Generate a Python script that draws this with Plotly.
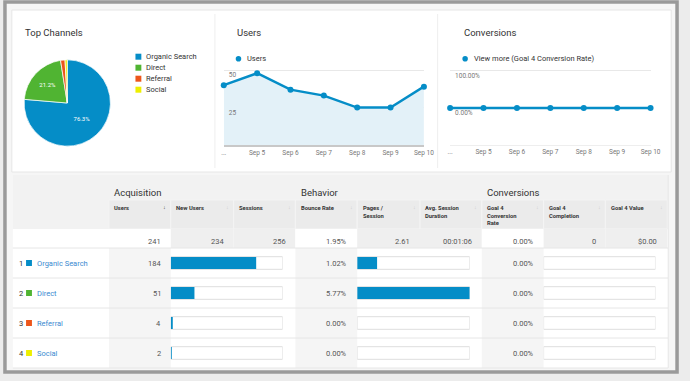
import plotly.graph_objects as go

W, H = 690, 381
def px(x): return x / W
def py(y): return 1 - y / H

FONT = "Roboto, Arial, sans-serif"

# ---------------- data ----------------
channels = ["Organic Search", "Direct", "Referral", "Social"]
channel_users = [184, 51, 4, 2]
channel_colors = ["#058DC7", "#50B432", "#ED561B", "#EDEF00"]

dates = ["...", "Sep 5", "Sep 6", "Sep 7", "Sep 8", "Sep 9", "Sep 10"]
daily_users = [40, 48, 37, 33, 25, 25, 39]
daily_conv_rate = [0, 0, 0, 0, 0, 0, 0]

users_ticks = [25, 50]
conv_ticks = [0, 100]
conv_tick_text = ["0.00%", "100.00%"]

group_titles = ["Acquisition", "Behavior", "Conversions"]
column_headers = ["Users", "New Users", "Sessions", "Bounce Rate", "Pages /<br>Session",
                  "Avg. Session<br>Duration", "Goal 4<br>Conversion<br>Rate",
                  "Goal 4<br>Completion", "Goal 4 Value"]
totals = ["241", "234", "256", "1.95%", "2.61", "00:01:06", "0.00%", "0", "$0.00"]
bounce_rates = [1.02, 5.77, 0.00, 0.00]
goal_conv_rates = [0.00, 0.00, 0.00, 0.00]

# ---------------- layout geometry ----------------
col_edges = [108, 171, 235, 298, 361, 425, 488, 551, 614, 677]
row_top = 248
row_h = 30
n_rows = len(channels)

fig = go.Figure()

# Pie
total_users = sum(channel_users)
pie_text = [f"{v / total_users * 100:.1f}%" if v / total_users > 0.05 else "" for v in channel_users]
fig.add_trace(go.Pie(
    labels=channels, values=channel_users, sort=False, direction="clockwise", rotation=0,
    marker=dict(colors=channel_colors, line=dict(color="white", width=0.7)),
    text=pie_text, textinfo="text", textposition="inside", insidetextorientation="horizontal",
    textfont=dict(size=6, color="white", family=FONT),
    domain=dict(x=[px(21.5), px(109.5)], y=[py(147), py(59)]),
    showlegend=False, hoverinfo="skip",
))

# Users line chart
fig.add_trace(go.Scatter(
    x=dates, y=daily_users, mode="lines+markers", fill="tozeroy",
    fillcolor="#e3f1f8", line=dict(color="#058DC7", width=2.5),
    marker=dict(size=6, color="#058DC7"), cliponaxis=False,
    xaxis="x", yaxis="y", showlegend=False, hoverinfo="skip",
))

# Conversions line chart
fig.add_trace(go.Scatter(
    x=dates, y=daily_conv_rate, mode="lines+markers",
    line=dict(color="#058DC7", width=2.5),
    marker=dict(size=6, color="#058DC7"), cliponaxis=False,
    xaxis="x2", yaxis="y2", showlegend=False, hoverinfo="skip",
))

rows_idx = list(range(n_rows))
shares = [v / total_users for v in channel_users]
max_bounce = max(bounce_rates)

def bar_pair(values, full, xa, ya):
    fig.add_trace(go.Bar(
        x=[full] * n_rows, y=rows_idx, orientation="h", width=0.42,
        marker=dict(color="white", line=dict(color="#dedede", width=1)),
        cliponaxis=False, xaxis=xa, yaxis=ya, showlegend=False, hoverinfo="skip",
    ))
    fig.add_trace(go.Bar(
        x=values, y=rows_idx, orientation="h", width=0.40,
        marker=dict(color="#058DC7", line=dict(width=0)),
        cliponaxis=False, xaxis=xa, yaxis=ya, showlegend=False, hoverinfo="skip",
    ))

bar_pair(shares, 1, "x3", "y3")
bar_pair(bounce_rates, max_bounce, "x4", "y4")
bar_pair(goal_conv_rates, 1, "x5", "y5")

# ---------------- shapes ----------------
shapes = []
def rect(x0, y0, x1, y1, fill, line_color=None, lw=0, layer="below"):
    shapes.append(dict(type="rect", xref="paper", yref="paper",
                       x0=px(x0), x1=px(x1), y0=py(y1), y1=py(y0),
                       fillcolor=fill, line=dict(color=line_color or fill, width=lw),
                       layer=layer))
def hline(x0, x1, y, color, lw=1):
    shapes.append(dict(type="line", xref="paper", yref="paper", x0=px(x0), x1=px(x1),
                       y0=py(y), y1=py(y), line=dict(color=color, width=lw), layer="below"))
def vline(x, y0, y1, color, lw=1):
    shapes.append(dict(type="line", xref="paper", yref="paper", x0=px(x), x1=px(x),
                       y0=py(y0), y1=py(y1), line=dict(color=color, width=lw), layer="below"))

# frame and panels
rect(2, 2, 687, 372, "#f6f6f6", "#9a9a9a", 3.5)
rect(9, 10, 681, 172, "white", "#e6e6e6", 1)
vline(216, 14, 168, "#eeeeee")
vline(443, 14, 168, "#eeeeee")

# table
rect(10, 175, 678, 368, "white")
rect(10, 175, 678, 229, "#f2f2f2")
for i in range(len(col_edges) - 1):
    rect(col_edges[i], 200, col_edges[i + 1], 229, "#ebebeb", "#f4f4f4", 1)
white_totals = {0, 3, 6}
for i in range(len(col_edges) - 1):
    c = "white" if i in white_totals else "#efefef"
    rect(col_edges[i], 229, col_edges[i + 1], 248, c)
for i in white_totals:
    rect(col_edges[i], 248, col_edges[i + 1], 368, "#f5f5f5")
for r in range(n_rows + 1):
    hline(10, 678, row_top + r * row_h, "#e6e6e6")
vline(678, 175, 368, "#e6e6e6")

# pie legend swatches
for i, c in enumerate(channel_colors):
    yc = 56.7 + i * 11
    rect(135, yc - 3, 141, yc + 3, c)
    # row swatches in table
    yr = row_top + row_h * (i + 0.5)
    rect(23.5, yr - 3, 29.5, yr + 3, c)

# line chart legend dots
for xc in (240, 471):
    shapes.append(dict(type="circle", xref="paper", yref="paper",
                       x0=px(xc - 2.8), x1=px(xc + 2.8), y0=py(58.7 + 2.8), y1=py(58.7 - 2.8),
                       fillcolor="#058DC7", line=dict(width=0), layer="above"))

# ---------------- annotations ----------------
ann = []
def txt(x, y, s, size=7.5, color="#444", xanchor="left", yanchor="middle", bold=False):
    ann.append(dict(x=px(x), y=py(y), xref="paper", yref="paper", text=f"<b>{s}</b>" if bold else s,
                    showarrow=False, xanchor=xanchor, yanchor=yanchor, align="left",
                    font=dict(size=size, color=color, family=FONT)))

txt(20, 33, "Top Channels", 9.5, "#333")
txt(236, 33, "Users", 9.5, "#333")
txt(468, 33, "Conversions", 9.5, "#333")

for i, name in enumerate(channels):
    txt(143.5, 56.7 + i * 11, name, 7.5, "#333")
txt(246.5, 58.7, "Users", 7.5, "#333")
txt(478, 58.7, "View more (Goal 4 Conversion Rate)", 7.5, "#333")

group_x = [col_edges[0], col_edges[3], col_edges[6]]
for gx, g in zip(group_x, group_titles):
    txt(gx + 3.5, 192.5, g, 9.5, "#333")

for i, h in enumerate(column_headers):
    txt(col_edges[i] + 3.5, 203, h, 5.8, "#333", yanchor="top", bold=True)
    txt(col_edges[i + 1] - 6, 207, "↓", 5.5, "#333" if i == 0 else "#cccccc", xanchor="center")

for i, t in enumerate(totals):
    txt(col_edges[i + 1] - 8, 241.5, t, 7.5, "#555", xanchor="right")

for r in range(n_rows):
    yr = row_top + row_h * (r + 0.5)
    txt(14, yr, str(r + 1), 7.5, "#333")
    txt(33, yr, channels[r], 7.5, "#3a8ad0")
    txt(col_edges[1] - 8, yr, str(channel_users[r]), 7.5, "#555", xanchor="right")
    txt(col_edges[4] - 8, yr, f"{bounce_rates[r]:.2f}%", 7.5, "#555", xanchor="right")
    txt(col_edges[7] - 8, yr, f"{goal_conv_rates[r]:.2f}%", 7.5, "#555", xanchor="right")

# ---------------- axes ----------------
tickfont = dict(size=6.5, color="#777", family=FONT)
hidden = dict(visible=False, showgrid=False, zeroline=False, fixedrange=True)
bar_y = dict(hidden, domain=[py(368), py(248)], range=[n_rows - 0.5, -0.5])

fig.update_layout(
    width=W, height=H, margin=dict(l=0, r=0, t=0, b=0),
    paper_bgcolor="#ececec", plot_bgcolor="rgba(0,0,0,0)",
    font=dict(family=FONT), barmode="overlay", showlegend=False,
    shapes=shapes, annotations=ann,
    xaxis=dict(domain=[px(225), px(429)], type="category", range=[0, 6],
               showgrid=False, zeroline=False, showline=True, linecolor="#c8c8c8", linewidth=2,
               ticks="", tickfont=tickfont, fixedrange=True),
    yaxis=dict(domain=[py(145), py(62.7)], range=[0, 55], tickvals=users_ticks,
               showgrid=True, gridcolor="#e8e8e8", zeroline=False, showline=False,
               ticklabelposition="inside", ticklabelshift=5, ticklabelstandoff=2,
               ticklabeloverflow="allow",
               tickfont=tickfont, fixedrange=True),
    xaxis2=dict(domain=[px(455.7), px(660)], type="category", range=[0, 6],
                showgrid=False, zeroline=False, showline=True, linecolor="#eeeeee", linewidth=1,
                ticks="", tickfont=tickfont, fixedrange=True, anchor="y2"),
    yaxis2=dict(domain=[py(145), py(63)], range=[-98.1, 119.4], tickvals=conv_ticks,
                ticktext=conv_tick_text, showgrid=True, gridcolor="#e8e8e8", zeroline=False,
                showline=False, ticklabelposition="inside", ticklabelshift=5, ticklabelstandoff=2,
                ticklabeloverflow="allow",
                tickfont=tickfont, fixedrange=True, anchor="x2"),
    xaxis3=dict(hidden, domain=[px(171), px(285)], range=[0, 1], anchor="y3"),
    yaxis3=dict(bar_y, anchor="x3"),
    xaxis4=dict(hidden, domain=[px(361), px(475.7)], range=[0, max_bounce], anchor="y4"),
    yaxis4=dict(bar_y, anchor="x4"),
    xaxis5=dict(hidden, domain=[px(551), px(665)], range=[0, 1], anchor="y5"),
    yaxis5=dict(bar_y, anchor="x5"),
)

fig.write_html(
    "out.html",
    config={"displayModeBar": False},
    post_script="document.body.style.margin='0';document.body.style.overflow='hidden';",
)
